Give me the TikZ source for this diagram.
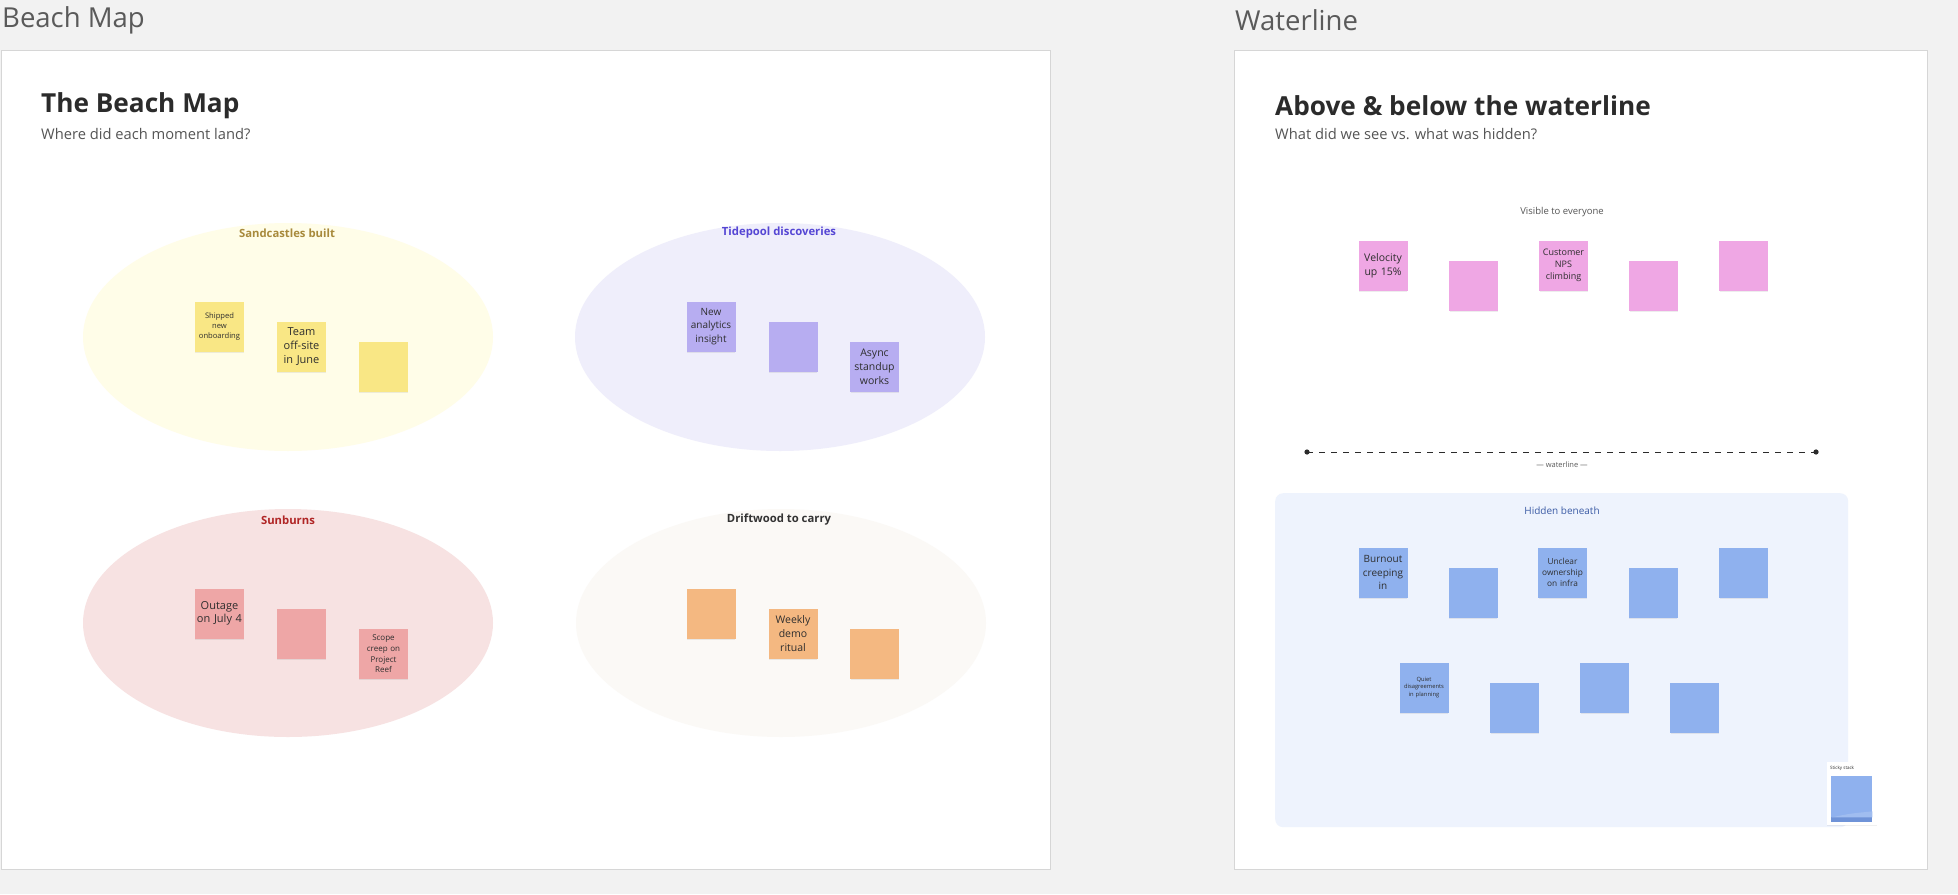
\documentclass[tikz,border=0pt]{standalone}
\usepackage{fontspec}
\setmainfont{Open Sans}
\usetikzlibrary{shadows,shapes.geometric}
\definecolor{pagebg}{HTML}{F2F2F2}
\definecolor{frameline}{HTML}{D6D6D6}
\definecolor{frametitle}{HTML}{5A5A5A}
\definecolor{headtext}{HTML}{2B2B2B}
\definecolor{subtext}{HTML}{555555}
\definecolor{stickytext}{HTML}{2E2E2E}
\definecolor{sandbg}{HTML}{FFFDE8}
\definecolor{sandnote}{HTML}{F9E785}
\definecolor{sandlabel}{HTML}{A88A3C}
\definecolor{tidebg}{HTML}{EFEEFB}
\definecolor{tidenote}{HTML}{B7ADF1}
\definecolor{tidelabel}{HTML}{5546D4}
\definecolor{sunbg}{HTML}{F7E2E2}
\definecolor{sunnote}{HTML}{EEA6A6}
\definecolor{sunlabel}{HTML}{B02525}
\definecolor{driftbg}{HTML}{FBF9F6}
\definecolor{driftnote}{HTML}{F4B881}
\definecolor{driftlabel}{HTML}{333333}
\definecolor{visnote}{HTML}{EFA7E4}
\definecolor{hidbg}{HTML}{EEF3FD}
\definecolor{hidnote}{HTML}{8FB1EE}
\definecolor{hidnotedark}{HTML}{6F93D8}
\definecolor{hidlabel}{HTML}{3B5BA5}
\begin{document}
\begin{tikzpicture}[x=1pt,y=-1pt,
  frame/.style={draw=frameline, line width=1pt, fill=white},
  frametitlestyle/.style={anchor=west, text=frametitle, font=\fontsize{27.5}{32}\selectfont, inner sep=0pt},
  heading/.style={anchor=west, text=headtext, font=\bfseries\fontsize{26.2}{30}\selectfont, inner sep=0pt},
  subheading/.style={anchor=west, text=subtext, font=\fontsize{14.7}{17}\selectfont, inner sep=0pt},
  zone/.style={ellipse, minimum width=410pt, minimum height=228pt, inner sep=0pt},
  zonelabel/.style={font=\bfseries\fontsize{11.3}{13}\selectfont, inner sep=0pt},
  stickynote/.style={rectangle, minimum width=49pt, minimum height=50pt, inner sep=1pt,
    align=center, text width=46pt, text=stickytext,
    drop shadow={shadow xshift=0pt, shadow yshift=-2pt, shadow scale=0.98, opacity=0.07, fill=black}},
  smalllabel/.style={inner sep=0pt, text=subtext}
]
\useasboundingbox (0,0) rectangle (1958,894);
\fill[pagebg] (0,0) rectangle (1958,894);

% ---------- left frame ----------
\node[frametitlestyle] (t1) at (2,20) {Beach Map};
\node[frame, anchor=north west, minimum width=1049pt, minimum height=819pt, inner sep=0pt] (f1) at (1,50) {};
\node[heading] (h1) at (41,106) {The Beach Map};
\node[subheading] (s1) at (41,134) {Where did each moment land?};

\node[zone, fill=sandbg] (zsand) at (288,337) {};
\node[zone, fill=tidebg] (ztide) at (780,337) {};
\node[zone, fill=sunbg] (zsun) at (288,623) {};
\node[zone, fill=driftbg] (zdrift) at (781,623) {};

\node[zonelabel, text=sandlabel] (lsand) at (287,233) {Sandcastles built};
\node[zonelabel, text=tidelabel] (ltide) at (779,233) {Tidepool discoveries};
\node[zonelabel, text=sunlabel] (lsun) at (288,520) {Sunburns};
\node[zonelabel, text=driftlabel] (ldrift) at (779,520) {Driftwood to carry};

\node[stickynote, fill=sandnote, font=\fontsize{7.6}{9.7}\selectfont] (a1) at (219.5,326.5) {Shipped\\new\\onboarding};
\node[stickynote, fill=sandnote, font=\fontsize{11}{14}\selectfont] (a2) at (301.5,347) {Team\\off-site\\in June};
\node[stickynote, fill=sandnote] (a3) at (383.5,367) {};

\node[stickynote, fill=tidenote, font=\fontsize{10}{13.3}\selectfont] (b1) at (711,326.5) {New\\analytics\\insight};
\node[stickynote, fill=tidenote] (b2) at (793,347) {};
\node[stickynote, fill=tidenote, font=\fontsize{10.5}{14}\selectfont] (b3) at (874.5,367) {Async\\standup\\works};

\node[stickynote, fill=sunnote, font=\fontsize{11}{13.3}\selectfont] (c1) at (219.5,613.5) {Outage\\on July 4};
\node[stickynote, fill=sunnote] (c2) at (301.5,634) {};
\node[stickynote, fill=sunnote, font=\fontsize{8}{10.7}\selectfont] (c3) at (383.5,654) {Scope\\creep on\\Project\\Reef};

\node[stickynote, fill=driftnote] (d1) at (711,613.5) {};
\node[stickynote, fill=driftnote, font=\fontsize{10.5}{14}\selectfont] (d2) at (793,634) {Weekly\\demo\\ritual};
\node[stickynote, fill=driftnote] (d3) at (874.5,654) {};

% ---------- right frame ----------
\node[frametitlestyle] (t2) at (1235,20) {Waterline};
\node[frame, anchor=north west, minimum width=693pt, minimum height=819pt, inner sep=0pt] (f2) at (1234,50) {};
\node[heading] (h2) at (1275,106) {Above \& below the waterline};
\node[subheading] (s2) at (1275,134) {What did we see vs. what was hidden?};

\node[smalllabel, font=\fontsize{9.5}{11}\selectfont] (lvis) at (1562,212) {Visible to everyone};

\node[stickynote, fill=visnote, font=\fontsize{10.5}{14}\selectfont] (v1) at (1383,265.5) {Velocity\\up 15\%};
\node[stickynote, fill=visnote] (v2) at (1473.5,285.5) {};
\node[stickynote, fill=visnote, font=\fontsize{9}{12}\selectfont] (v3) at (1563.5,265.5) {Customer\\NPS\\climbing};
\node[stickynote, fill=visnote] (v4) at (1653.5,285.5) {};
\node[stickynote, fill=visnote] (v5) at (1743.5,265.5) {};

\coordinate (wl1) at (1307,452);
\coordinate (wl2) at (1816,452);
\draw[draw=headtext, line width=1pt, dash pattern=on 5.5pt off 6.5pt] (wl1) -- (wl2);
\fill[headtext] (wl1) circle (2.6pt);
\fill[headtext] (wl2) circle (2.6pt);
\node[smalllabel, font=\fontsize{7.5}{9}\selectfont, text=frametitle] (lwl) at (1562,465) {— waterline —};

\node[rectangle, rounded corners=8pt, fill=hidbg, anchor=north west, minimum width=573pt, minimum height=334pt, inner sep=0pt] (hbox) at (1275,493) {};
\node[smalllabel, font=\fontsize{10}{12}\selectfont, text=hidlabel] (lhid) at (1562,511) {Hidden beneath};

\node[stickynote, fill=hidnote, font=\fontsize{10}{13.5}\selectfont] (w1) at (1383,572.5) {Burnout\\creeping\\in};
\node[stickynote, fill=hidnote] (w2) at (1473,593) {};
\node[stickynote, fill=hidnote, font=\fontsize{8.3}{11.2}\selectfont] (w3) at (1562.5,572.5) {Unclear\\ownership\\on infra};
\node[stickynote, fill=hidnote] (w4) at (1653,593) {};
\node[stickynote, fill=hidnote] (w5) at (1743.5,572.5) {};

\node[stickynote, fill=hidnote, font=\fontsize{5.8}{7.7}\selectfont] (x1) at (1424,687.5) {Quiet\\disagreements\\in planning};
\node[stickynote, fill=hidnote] (x2) at (1514.5,707.5) {};
\node[stickynote, fill=hidnote] (x3) at (1604.5,687.5) {};
\node[stickynote, fill=hidnote] (x4) at (1694.5,707.5) {};

% sticky stack widget
\node[rectangle, fill=white, anchor=north west, minimum width=50pt, minimum height=63pt, inner sep=0pt,
  drop shadow={shadow xshift=0pt, shadow yshift=-1pt, opacity=0.06, fill=black}] (stk) at (1827,762) {};
\node[inner sep=0pt, anchor=west, font=\fontsize{4.5}{5}\selectfont, text=headtext] (stkl) at (1830,768) {Sticky stack};
\node[rectangle, fill=hidnote, anchor=north west, minimum width=41pt, minimum height=46pt, inner sep=0pt] (stkn) at (1831,776) {};
\fill[hidnotedark] (stkn.south west) rectangle ([yshift=5pt]stkn.south east);
\fill[hidnote!85!white] ([yshift=5pt]stkn.south west) .. controls ([xshift=20pt,yshift=9pt]stkn.south west) .. ([yshift=11pt]stkn.south east) -- ([yshift=5pt]stkn.south east) -- cycle;
\end{tikzpicture}
\end{document}
